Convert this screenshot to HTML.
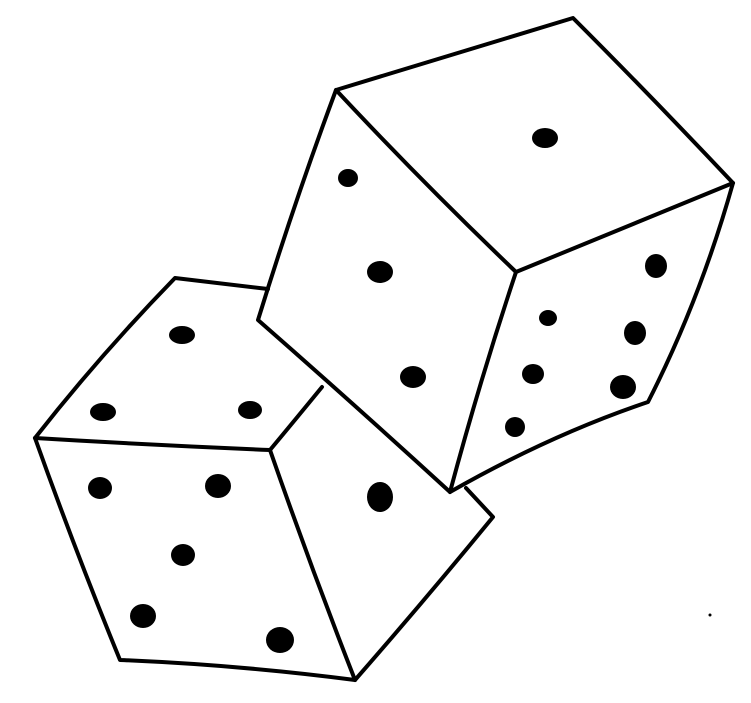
<!DOCTYPE html>
<html><head><meta charset="utf-8"><style>
html,body{margin:0;padding:0;background:#fff;width:751px;height:703px;overflow:hidden}
</style></head><body>
<svg width="751" height="703" viewBox="0 0 751 703" xmlns="http://www.w3.org/2000/svg">
<g fill="none" stroke="#000" stroke-width="4" stroke-linejoin="round" stroke-linecap="round">
<g>
<path d="M336,90 L573,18 Q650,95 733,183 L516,272 Q420,180 336,90 Z"/>
<path d="M336,90 Q295,200 258,320 Q355,405 450,492 Q480,380 516,272"/>
<path d="M733,183 Q700,300 648,402 Q550,435 450,492"/>
</g>
<g>
<path d="M35,438 Q100,355 175,278 L268,289 M322,387 Q295,420 270,450 Q150,445 35,438"/>
<path d="M35,438 Q75,550 120,660 Q240,665 355,680 Q310,565 270,450"/>
<path d="M466,488 L493,517 Q425,600 355,680"/>
</g>
</g>
<g fill="#000">
<ellipse cx="545" cy="138" rx="13" ry="10"/>
<ellipse cx="348" cy="178" rx="10" ry="9"/>
<ellipse cx="380" cy="272" rx="13" ry="11"/>
<ellipse cx="413" cy="377" rx="13" ry="11"/>
<ellipse cx="656" cy="266" rx="11" ry="12"/>
<ellipse cx="548" cy="318" rx="9" ry="8"/>
<ellipse cx="635" cy="333" rx="11" ry="12"/>
<ellipse cx="533" cy="374" rx="11" ry="10"/>
<ellipse cx="623" cy="387" rx="13" ry="12"/>
<ellipse cx="515" cy="427" rx="10" ry="10"/>
<ellipse cx="182" cy="335" rx="13" ry="9"/>
<ellipse cx="103" cy="412" rx="13" ry="9"/>
<ellipse cx="250" cy="410" rx="12" ry="9"/>
<ellipse cx="100" cy="488" rx="12" ry="11"/>
<ellipse cx="218" cy="486" rx="13" ry="12"/>
<ellipse cx="183" cy="555" rx="12" ry="11"/>
<ellipse cx="143" cy="616" rx="13" ry="12"/>
<ellipse cx="280" cy="640" rx="14" ry="13"/>
<ellipse cx="380" cy="497" rx="13" ry="15"/>
<circle cx="710" cy="615" r="1.5"/>
</g>
</svg>
</body></html>
